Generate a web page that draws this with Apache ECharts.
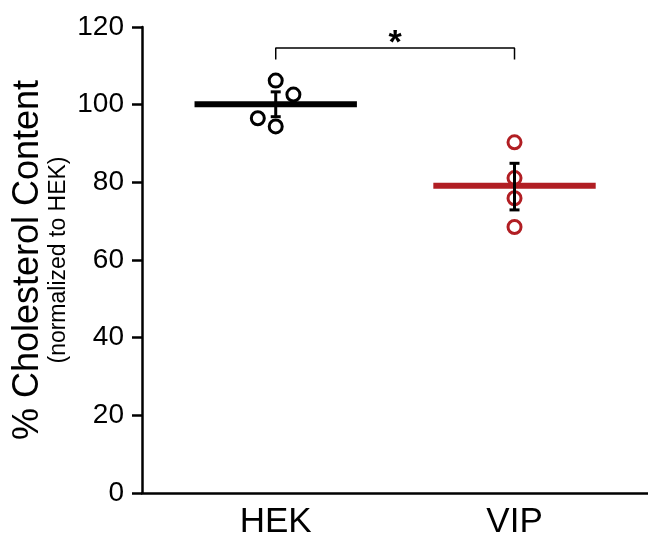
<!DOCTYPE html>
<html>
<head>
<meta charset="utf-8">
<script src="https://cdn.jsdelivr.net/npm/echarts@6/dist/echarts.min.js"></script>
<style>
  html, body { margin: 0; padding: 0; background: #fff; }
  #chart { width: 648px; height: 540px; }
</style>
</head>
<body>
<div id="chart"></div>
<script>
// groups on the x axis (HEK = 1, VIP = 2)
const categories = ['HEK', 'VIP'];
const yTicks = [0, 20, 40, 60, 80, 100, 120];

// individual points [x position, value]
const hekPoints = [[1.0, 106.2], [1.074, 102.6], [0.925, 96.5], [1.0, 94.4]];
const vipPoints = [[2.0, 90.3], [2.0, 81.1], [2.0, 75.9], [2.0, 68.5]];

// group means and error bars [x, low, high]
const means = [100.1, 79.1];
const errBars = [[1, 96.9, 103.3], [2, 72.9, 84.9]];

// significance bracket
const bracket = [[1, 111.6], [1, 114.6], [2, 114.6], [2, 111.6]];
const starPos = [[1.5, 115.6]];

const RED = '#b11e23';
const FONT = "'Liberation Sans', Arial, sans-serif";
const halfW = 0.34;

const myChart = echarts.init(document.getElementById('chart'));

const option = {
  animation: false,
  grid: {
    left: 142,
    right: 0,
    top: 27,
    bottom: 44
  },
  xAxis: {
    type: 'value',
    min: 0.44,
    max: 2.559,
    axisLine: { onZero: false, lineStyle: { color: '#000', width: 2.5 } },
    axisTick: { show: false },
    splitLine: { show: false },
    axisLabel: {
      customValues: [1, 2],
      formatter: v => categories[Math.round(v) - 1] || '',
      color: '#000',
      fontSize: 35,
      fontFamily: FONT,
      margin: 12
    }
  },
  yAxis: {
    type: 'value',
    min: yTicks[0],
    max: yTicks[yTicks.length - 1],
    interval: 20,
    name: '{a|% Cholesterol Content}\n{b|(normalized to HEK)}',
    nameLocation: 'middle',
    nameRotate: 90,
    nameGap: 71,
    nameMoveOverlap: false,
    nameTextStyle: {
      color: '#000',
      fontFamily: FONT,
      rich: {
        a: { fontSize: 36, fontFamily: FONT, color: '#000', lineHeight: 36 },
        b: { fontSize: 23, fontFamily: FONT, color: '#000', lineHeight: 25 }
      }
    },
    axisLine: { show: true, onZero: false, lineStyle: { color: '#000', width: 2.5 } },
    axisTick: { show: true, length: 10, lineStyle: { color: '#000', width: 2.5 } },
    splitLine: { show: false },
    axisLabel: {
      color: '#000',
      fontSize: 28,
      fontFamily: FONT,
      margin: 18
    }
  },
  series: [
    {
      // HEK mean
      type: 'line',
      data: [[1 - halfW, means[0]], [1 + halfW, means[0]]],
      symbol: 'none',
      lineStyle: { color: '#000', width: 6 },
      z: 3
    },
    {
      // VIP mean
      type: 'line',
      data: [[2 - halfW, means[1]], [2 + halfW, means[1]]],
      symbol: 'none',
      lineStyle: { color: RED, width: 6 },
      z: 3
    },
    {
      type: 'scatter',
      data: hekPoints,
      symbol: 'circle',
      symbolSize: 13,
      itemStyle: { color: 'rgba(0,0,0,0)', borderColor: '#000', borderWidth: 3, opacity: 1 },
      z: 2
    },
    {
      type: 'scatter',
      data: vipPoints,
      symbol: 'circle',
      symbolSize: 13,
      itemStyle: { color: 'rgba(0,0,0,0)', borderColor: RED, borderWidth: 3, opacity: 1 },
      z: 2
    },
    {
      // error bars
      type: 'custom',
      data: errBars,
      encode: { x: 0, y: [1, 2] },
      z: 4,
      renderItem: function (params, api) {
        const x = api.value(0);
        const lo = api.coord([x, api.value(1)]);
        const hi = api.coord([x, api.value(2)]);
        const cap = 5;
        const st = { stroke: '#000', lineWidth: 3 };
        return {
          type: 'group',
          children: [
            { type: 'line', shape: { x1: lo[0], y1: lo[1], x2: hi[0], y2: hi[1] }, style: st },
            { type: 'line', shape: { x1: lo[0] - cap, y1: lo[1], x2: lo[0] + cap, y2: lo[1] }, style: st },
            { type: 'line', shape: { x1: hi[0] - cap, y1: hi[1], x2: hi[0] + cap, y2: hi[1] }, style: st }
          ]
        };
      }
    },
    {
      // bracket
      type: 'line',
      data: bracket,
      symbol: 'none',
      lineStyle: { color: '#000', width: 1.5 }
    },
    {
      type: 'scatter',
      data: starPos,
      symbol: 'circle',
      symbolSize: 1,
      itemStyle: { color: 'rgba(0,0,0,0)', opacity: 1 },
      label: {
        show: true,
        position: 'inside',
        formatter: '*',
        color: '#000',
        fontSize: 34,
        fontWeight: 'bold',
        fontFamily: FONT
      }
    }
  ]
};

myChart.setOption(option, true);
</script>
</body>
</html>
